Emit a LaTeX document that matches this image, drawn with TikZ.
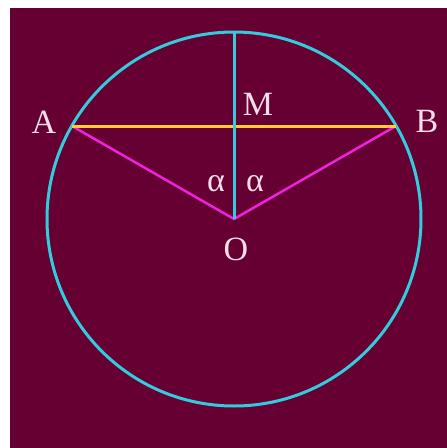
\documentclass[tikz,border=0pt]{standalone}
\usepackage{fontspec}
\setmainfont{Liberation Serif}
\definecolor{bg}{HTML}{660033}
\definecolor{cyanline}{HTML}{33CCDD}
\definecolor{yel}{HTML}{FFCC33}
\definecolor{mag}{HTML}{EE22DD}
\definecolor{txt}{HTML}{F4DCEA}
\tikzset{
  lbl/.style={text=txt, font=\fontsize{34}{36}\selectfont, inner sep=0pt},
  circ/.style={draw=cyanline, line width=3pt},
  chord/.style={draw=yel, line width=3pt},
  radius line/.style={draw=mag, line width=2.5pt},
}
\begin{document}
\begin{tikzpicture}[x=1pt,y=-1pt]
\useasboundingbox (0,0) rectangle (447,448);
\fill[white] (0,0) rectangle (447,448);
\fill[bg] (10,8) rectangle (447,448);
\coordinate (O) at (234,219);
\coordinate (A) at (72,126);
\coordinate (B) at (396,126);
\coordinate (T) at (234,32);
\draw[circ] (O) circle[radius=187];
\draw[radius line] (A) -- (O) -- (B);
\draw[chord] (A) -- (B);
\draw[circ] (T) -- (O);
\node[lbl] (lA) at (44,122) {A};
\node[lbl] (lB) at (427,121) {B};
\node[lbl] (lM) at (258,104) {M};
\node[lbl] (la1) at (216,184) {α};
\node[lbl] (la2) at (255,184) {α};
\node[lbl] (lO) at (236,249) {O};
\end{tikzpicture}
\end{document}
